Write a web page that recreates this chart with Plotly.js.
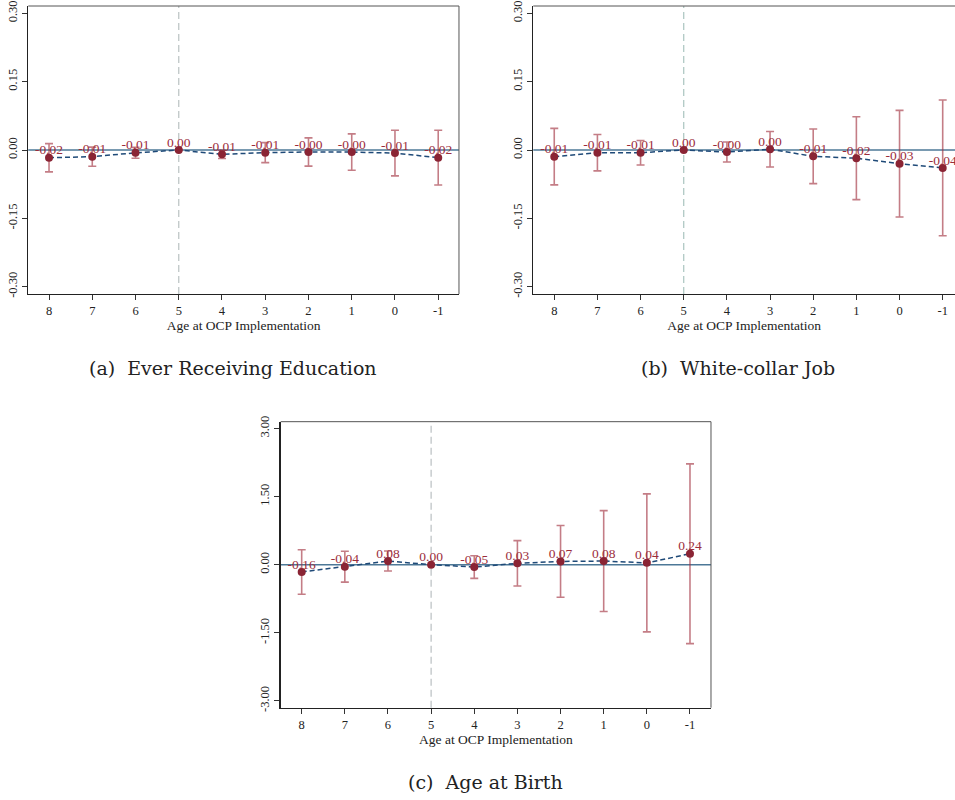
<!DOCTYPE html>
<html>
<head>
<meta charset="utf-8">
<script src="https://cdn.plot.ly/plotly-3.0.1.min.js"></script>
<style>
  html, body { margin: 0; padding: 0; background: #fff; }
  #chart { width: 955px; height: 800px; }
</style>
</head>
<body>
<div id="chart"></div>
<script>
// Event-study estimates by age at OCP implementation (reference age = 5)
const ages = [8, 7, 6, 5, 4, 3, 2, 1, 0, -1];
const ageTickText = ["8", "7", "6", "5", "4", "3", "2", "1", "0", "-1"];

// (a) Ever receiving education: coefficients and 95% CI half-widths
const eduCoef = [-0.017, -0.0146, -0.0062, 0, -0.0095, -0.0058, -0.0044, -0.0046, -0.0068, -0.0168];
const eduCI   = [0.031, 0.021, 0.012, 0, 0.009, 0.022, 0.031, 0.040, 0.050, 0.060];

// (b) White-collar job
const jobCoef = [-0.0146, -0.0059, -0.0060, 0, -0.0044, 0.0016, -0.0138, -0.0180, -0.0300, -0.0393];
const jobCI   = [0.062, 0.040, 0.027, 0, 0.022, 0.039, 0.060, 0.091, 0.117, 0.149];

// (c) Age at birth
const birthCoef = [-0.16, -0.044, 0.08, 0, -0.052, 0.03, 0.072, 0.08, 0.04, 0.24];
const birthCI   = [0.49, 0.34, 0.22, 0, 0.25, 0.50, 0.79, 1.11, 1.52, 1.98];

// y-axis ticks
const smallTicks = [-0.30, -0.15, 0, 0.15, 0.30];
const smallTickText = ["-0.30", "-0.15", "0.00", "0.15", "0.30"];
const bigTicks = [-3, -1.5, 0, 1.5, 3];
const bigTickText = ["-3.00", "-1.50", "0.00", "1.50", "3.00"];

const SERIF = "'Liberation Serif', 'Times New Roman', serif";
const CAPTION = "'DejaVu Serif', serif";
const markerRed = "#8a2434";
const labelRed = "#9b2d3b";
const ciRed = "rgba(160,45,60,0.62)";
const lineNavy = "#1f4a78";
const zeroBlue = "#4d7897";

function panelTraces(coef, ci, xa, ya) {
  return [
    // dashed connector through the estimates
    {
      x: ages, y: coef, xaxis: xa, yaxis: ya,
      type: "scatter", mode: "lines",
      line: { color: lineNavy, width: 1.5, dash: "5px,3px" },
      hoverinfo: "skip", showlegend: false
    },
    // point estimates with confidence intervals
    {
      x: ages, y: coef, xaxis: xa, yaxis: ya,
      type: "scatter", mode: "markers",
      marker: { color: markerRed, size: 8 },
      error_y: { type: "data", array: ci, symmetric: true, color: ciRed, thickness: 1.6, width: 4 },
      showlegend: false
    },
    // value labels above each estimate
    {
      x: ages, y: coef, xaxis: xa, yaxis: ya,
      type: "scatter", mode: "text",
      text: coef.map(v => v.toFixed(2)),
      textposition: "top center",
      textfont: { family: SERIF, size: 13.5, color: labelRed },
      cliponaxis: false,
      hoverinfo: "skip", showlegend: false
    }
  ];
}

const data = [].concat(
  panelTraces(eduCoef, eduCI, "x", "y"),
  panelTraces(jobCoef, jobCI, "x2", "y2"),
  panelTraces(birthCoef, birthCI, "x3", "y3")
);

function xAxis(domain, range, anchor) {
  return {
    domain: domain, range: range, anchor: anchor,
    tickmode: "array", tickvals: ages, ticktext: ageTickText,
    ticks: "outside", ticklen: 5, tickcolor: "#333", tickwidth: 1,
    showline: true, linecolor: "#222", linewidth: 1.3,
    showgrid: false, zeroline: false,
    tickfont: { family: SERIF, size: 12.5, color: "#222" },
    title: { text: "Age at OCP Implementation", standoff: 1, font: { family: SERIF, size: 13.5, color: "#222" } }
  };
}

function yAxis(domain, range, anchor, vals, txt) {
  return {
    domain: domain, range: range, anchor: anchor,
    tickmode: "array", tickvals: vals, ticktext: txt, tickangle: -90,
    ticks: "outside", ticklen: 5, tickcolor: "#333", tickwidth: 1,
    showline: true, linecolor: "#222", linewidth: 1.3,
    showgrid: false, zeroline: false,
    tickfont: { family: SERIF, size: 12.5, color: "#222" }
  };
}

function refShapes(xa, ya, withRight, refColor) {
  const s = [
    // reference-age marker
    { type: "line", xref: xa, yref: ya + " domain", x0: 5, x1: 5, y0: 0, y1: 1,
      line: { color: refColor, width: 1.2, dash: "7px,4px" }, layer: "below" },
    // zero line
    { type: "line", xref: xa + " domain", yref: ya, x0: 0, x1: 1, y0: 0, y1: 0,
      line: { color: zeroBlue, width: 1.5 }, layer: "below" },
    // top border
    { type: "line", xref: xa + " domain", yref: ya + " domain", x0: 0, x1: 1, y0: 1, y1: 1,
      line: { color: "#555", width: 1 }, layer: "above" }
  ];
  if (withRight) {
    s.push({ type: "line", xref: xa + " domain", yref: ya + " domain", x0: 1, x1: 1, y0: 0, y1: 1,
      line: { color: "#555", width: 1 }, layer: "above" });
  }
  return s;
}

const layout = {
  width: 955, height: 800,
  margin: { l: 0, r: 0, t: 0, b: 0 },
  paper_bgcolor: "#fff", plot_bgcolor: "#fff",
  showlegend: false,
  xaxis:  xAxis([0.0296, 0.4806], [8.48, -1.48], "y"),
  yaxis:  yAxis([0.6325, 0.9925], [-0.316, 0.316], "x", smallTicks, smallTickText),
  xaxis2: xAxis([0.5584, 1.0], [8.486, -1.285], "y2"),
  yaxis2: yAxis([0.6325, 0.9925], [-0.316, 0.316], "x2", smallTicks, smallTickText),
  xaxis3: xAxis([0.2939, 0.7445], [8.487, -1.487], "y3"),
  yaxis3: yAxis([0.1154, 0.4729], [-3.15, 3.15], "x3", bigTicks, bigTickText),
  shapes: [].concat(
    refShapes("x", "y", true, "#b9c2c2"),
    refShapes("x2", "y2", false, "#a9c4bf"),
    refShapes("x3", "y3", true, "#b9bfc2")
  ),
  annotations: [
    { text: "(a)  Ever Receiving Education", xref: "paper", yref: "paper", x: 233 / 955, y: 1 - 368 / 800,
      xanchor: "center", yanchor: "middle", showarrow: false, font: { family: CAPTION, size: 19, color: "#222" } },
    { text: "(b)  White-collar Job", xref: "paper", yref: "paper", x: 738 / 955, y: 1 - 368 / 800,
      xanchor: "center", yanchor: "middle", showarrow: false, font: { family: CAPTION, size: 19, color: "#222" } },
    { text: "(c)  Age at Birth", xref: "paper", yref: "paper", x: 485 / 955, y: 1 - 782 / 800,
      xanchor: "center", yanchor: "middle", showarrow: false, font: { family: CAPTION, size: 19, color: "#222" } }
  ]
};

Plotly.newPlot("chart", data, layout, { staticPlot: true, displayModeBar: false });
</script>
</body>
</html>
